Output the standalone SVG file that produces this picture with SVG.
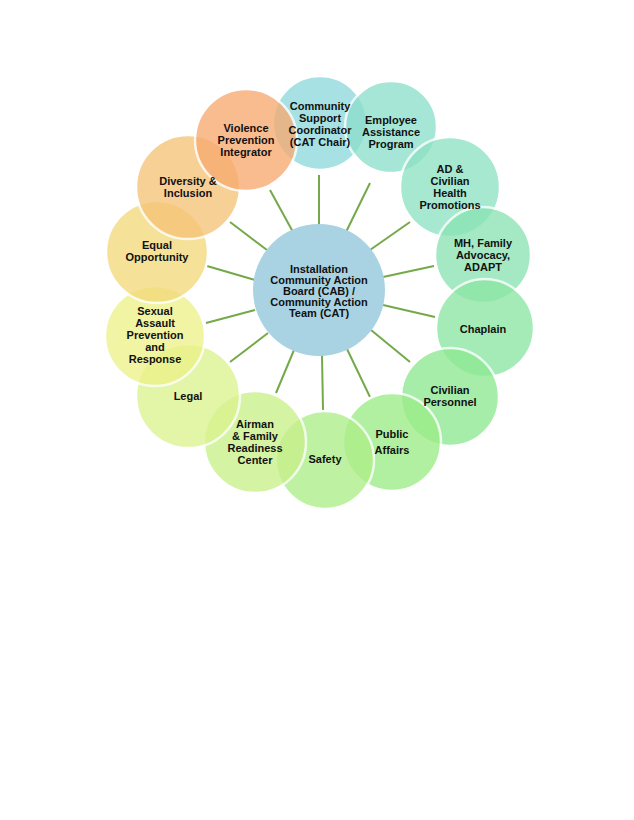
<svg xmlns="http://www.w3.org/2000/svg" width="634" height="820" viewBox="0 0 634 820">
<style>
.n{stroke:#fff;stroke-width:2.5;opacity:0.78}
.t{font-family:"Liberation Sans",Arial,sans-serif;font-weight:bold;font-size:11px;fill:#111;text-anchor:middle}
.c line{stroke:#74a94a;stroke-width:2}
</style>
<rect width="634" height="820" fill="#fff"/>
<g class="c" id="connectors">
<line x1="319" y1="225" x2="319" y2="175"/>
<line x1="346" y1="232" x2="370" y2="183"/>
<line x1="370" y1="250" x2="410" y2="222"/>
<line x1="383" y1="277" x2="434" y2="266"/>
<line x1="383" y1="305" x2="435" y2="317"/>
<line x1="371" y1="330" x2="410" y2="362"/>
<line x1="347" y1="349" x2="370" y2="397"/>
<line x1="322" y1="355" x2="323" y2="410"/>
<line x1="294" y1="350" x2="276" y2="393"/>
<line x1="268" y1="333" x2="230" y2="362"/>
<line x1="255" y1="310" x2="206" y2="323"/>
<line x1="255" y1="280" x2="207" y2="266"/>
<line x1="267" y1="250" x2="230" y2="222"/>
<line x1="293" y1="232" x2="270" y2="190"/>
</g>
<g id="center"><circle cx="319" cy="290" r="66" fill="#a9d3e2"/>
<text class="t"><tspan x="319" y="273">Installation</tspan><tspan x="319" y="284">Community Action</tspan><tspan x="319" y="295">Board (CAB) /</tspan><tspan x="319" y="306">Community Action</tspan><tspan x="319" y="317">Team (CAT)</tspan></text></g>
<g id="n1"><circle class="n" cx="320" cy="123" r="47" fill="#8fd9dd"/></g>
<g id="n2"><circle class="n" cx="391" cy="127" r="46" fill="#8ddfcd"/></g>
<g id="n3"><circle class="n" cx="450" cy="187" r="50" fill="#8ee2c3"/></g>
<g id="n4"><circle class="n" cx="483" cy="255" r="48" fill="#8be4b3"/></g>
<g id="n5"><circle class="n" cx="485" cy="328" r="49" fill="#8ce6a4"/></g>
<g id="n6"><circle class="n" cx="450" cy="397" r="49" fill="#8ce991"/></g>
<g id="n7"><circle class="n" cx="392" cy="442" r="49" fill="#9bec86"/></g>
<g id="n8"><circle class="n" cx="325" cy="460" r="49" fill="#aeee88"/></g>
<g id="n9"><circle class="n" cx="255" cy="442" r="51" fill="#c8f08a"/></g>
<g id="n10"><circle class="n" cx="188" cy="396" r="52" fill="#dcf38e"/></g>
<g id="n11"><circle class="n" cx="155" cy="336" r="50" fill="#edf28a"/></g>
<g id="n12"><circle class="n" cx="157" cy="252" r="51" fill="#f3da7c"/></g>
<g id="n13"><circle class="n" cx="188" cy="187" r="52" fill="#f5c478"/></g>
<g id="n14"><circle class="n" cx="246" cy="140" r="51" fill="#f7aa70"/></g>
<g id="labels">
<text class="t"><tspan x="320" y="110">Community</tspan><tspan x="320" y="122">Support</tspan><tspan x="320" y="134">Coordinator</tspan><tspan x="320" y="146">(CAT Chair)</tspan></text>
<text class="t"><tspan x="391" y="124">Employee</tspan><tspan x="391" y="136">Assistance</tspan><tspan x="391" y="148">Program</tspan></text>
<text class="t"><tspan x="450" y="173">AD &amp;</tspan><tspan x="450" y="185">Civilian</tspan><tspan x="450" y="197">Health</tspan><tspan x="450" y="209">Promotions</tspan></text>
<text class="t"><tspan x="483" y="247">MH, Family</tspan><tspan x="483" y="259">Advocacy,</tspan><tspan x="483" y="271">ADAPT</tspan></text>
<text class="t" x="483" y="333">Chaplain</text>
<text class="t"><tspan x="450" y="394">Civilian</tspan><tspan x="450" y="406">Personnel</tspan></text>
<text class="t"><tspan x="392" y="438">Public</tspan><tspan x="392" y="454">Affairs</tspan></text>
<text class="t" x="325" y="463">Safety</text>
<text class="t"><tspan x="255" y="428">Airman</tspan><tspan x="255" y="440">&amp; Family</tspan><tspan x="255" y="452">Readiness</tspan><tspan x="255" y="464">Center</tspan></text>
<text class="t" x="188" y="400">Legal</text>
<text class="t"><tspan x="155" y="315">Sexual</tspan><tspan x="155" y="327">Assault</tspan><tspan x="155" y="339">Prevention</tspan><tspan x="155" y="351">and</tspan><tspan x="155" y="363">Response</tspan></text>
<text class="t"><tspan x="157" y="249">Equal</tspan><tspan x="157" y="261">Opportunity</tspan></text>
<text class="t"><tspan x="188" y="185">Diversity &amp;</tspan><tspan x="188" y="197">Inclusion</tspan></text>
<text class="t"><tspan x="246" y="132">Violence</tspan><tspan x="246" y="144">Prevention</tspan><tspan x="246" y="156">Integrator</tspan></text>
</g>
</svg>
